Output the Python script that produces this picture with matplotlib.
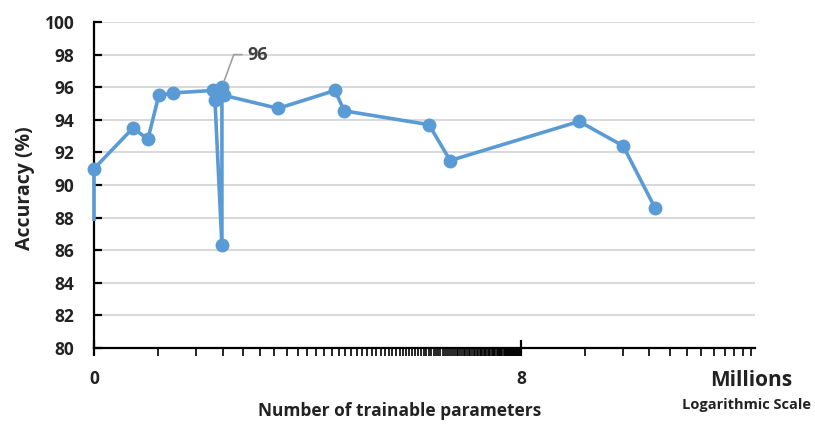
import matplotlib
matplotlib.use("Agg")
import matplotlib.pyplot as plt
import numpy as np

plt.rcParams['font.family'] = ['Open Sans', 'DejaVu Sans']
plt.rcParams['font.weight'] = 'bold'

# parameters in millions, accuracy in %
params = [0.08, 0.08, 0.122, 0.143, 0.161, 0.188, 0.289, 0.295, 0.318, 0.318,
          0.325, 0.583, 1.078, 1.188, 2.97, 3.73, 15.0, 24.1, 34.0]
accuracy = [87.9, 91.0, 93.5, 92.8, 95.5, 95.65, 95.8, 95.2, 86.3, 96.0,
            95.5, 94.7, 95.8, 94.55, 93.7, 91.5, 93.9, 92.4, 88.6]

x_min, x_max = 0.08, 100
y_ticks = list(range(80, 101, 2))
major_x = [0.08, 8]
major_labels = ["0", "8"]
minor_x = [0.08 * k for k in range(2, 100)] + [8 * k for k in range(2, 13)]

blue = "#5B9BD5"
txt = "#222222"

fig = plt.figure(figsize=(8.15, 4.24), dpi=100)
ax = fig.add_axes([94/815, 1-348/424, (755-94)/815, (348-22)/424])

ax.plot(params, accuracy, color=blue, lw=2.6, marker='o', ms=9,
        markevery=list(range(1, len(params))), zorder=3, clip_on=False)

ax.set_xscale('log')
ax.set_xlim(x_min, x_max)
ax.set_ylim(80, 100)
ax.set_yticks(y_ticks)
ax.set_xticks(major_x)
ax.set_xticklabels(major_labels)
ax.set_xticks(minor_x, minor=True)
ax.xaxis.set_minor_formatter(matplotlib.ticker.NullFormatter())

for y in y_ticks[1:]:
    ax.axhline(y, color="#d9d9d9", lw=1.5, zorder=0)

for s in ['top', 'right']:
    ax.spines[s].set_visible(False)
for s in ['left', 'bottom']:
    ax.spines[s].set_linewidth(1.6)
    ax.spines[s].set_color('black')

ax.tick_params(axis='y', direction='in', length=6, width=1.6, labelsize=12.5, pad=14)
ax.tick_params(axis='x', which='major', direction='inout', length=12, width=1.6, labelsize=12.5, pad=10)
ax.tick_params(axis='x', which='minor', direction='out', length=6, width=1.2)
for lbl in ax.get_xticklabels() + ax.get_yticklabels():
    lbl.set_fontweight('bold')
    lbl.set_color(txt)

fig.text(25/815, 1-188/424, "Accuracy (%)", rotation=90, ha='center', va='center',
         fontsize=14, fontweight='bold', color=txt)
fig.text(400/815, 1-411/424, "Number of trainable parameters", ha='center', va='center',
         fontsize=12.5, fontweight='bold', color=txt)
fig.text(751/815, 1-381/424, "Millions", ha='center', va='center', fontsize=15,
         fontweight='bold', color=txt)
fig.text(747/815, 1-405/424, "Logarithmic Scale", ha='center', va='center', fontsize=10.5,
         fontweight='bold', color=txt)

# data label for the best point
ax.annotate("96", xy=(params[9], accuracy[9]), xytext=(0.42, 98.0),
            fontsize=13, fontweight='bold', color="#404040", va='center', ha='left',
            arrowprops=dict(arrowstyle='-', color='#a0a0a0', lw=1.2,
                            connectionstyle="angle,angleA=0,angleB=70,rad=0",
                            shrinkA=2, shrinkB=4))

fig.savefig("out.png", dpi=100)
